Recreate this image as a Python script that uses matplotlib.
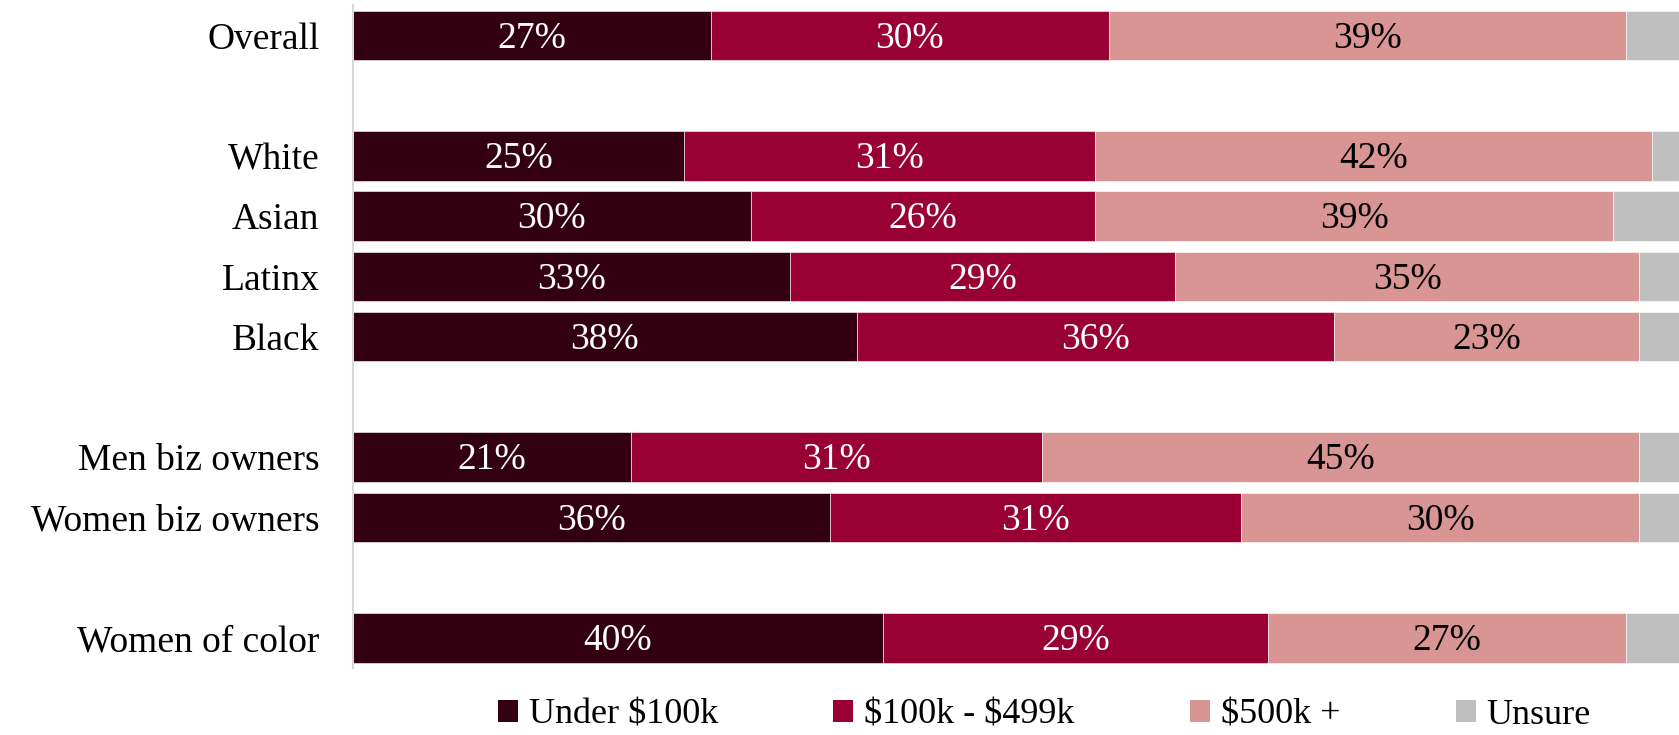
import matplotlib.pyplot as plt
from matplotlib.patches import Patch

# rows from top to bottom; None marks a blank gap row
groups = ["Overall", None, "White", "Asian", "Latinx", "Black", None,
          "Men biz owners", "Women biz owners", None, "Women of color"]

under_100k = [27, None, 25, 30, 33, 38, None, 21, 36, None, 40]
k100_499 = [30, None, 31, 26, 29, 36, None, 31, 31, None, 29]
k500_plus = [39, None, 42, 39, 35, 23, None, 45, 30, None, 27]
unsure = [4, None, 2, 5, 3, 3, None, 3, 3, None, 4]

series_names = ["Under $100k", "$100k - $499k", "$500k +", "Unsure"]
colors = ["#330011", "#990033", "#D99594", "#BFBFBF"]
text_colors = ["white", "white", "black", None]


def main():
    plt.rcParams['font.family'] = ['Liberation Serif', 'DejaVu Serif']
    plt.rcParams['text.parse_math'] = False

    fig = plt.figure(figsize=(16.79, 7.35), dpi=100)
    ax = fig.add_axes([0.210, 0.0912, 0.790, 0.9015])

    rows = [i for i, g in enumerate(groups) if g is not None]
    labels = [groups[i] for i in rows]
    all_series = [under_100k, k100_499, k500_plus, unsure]

    left = [0.0] * len(rows)
    for s, vals in enumerate(all_series):
        widths = [vals[i] for i in rows]
        bars = ax.barh(rows, widths, left=left, height=0.82, color=colors[s],
                       edgecolor='white', linewidth=0.4)
        if text_colors[s] is not None:
            for b, w in zip(bars, widths):
                ax.text(b.get_x() + w / 2, b.get_y() + b.get_height() / 2 + 0.05,
                        f"{w}%", ha='center', va='center', fontsize=27,
                        color=text_colors[s])
        left = [l + w for l, w in zip(left, widths)]

    ax.set_xlim(0, 100)
    ax.set_ylim(len(groups) - 0.5, -0.5)
    ax.set_yticks(rows)
    ax.set_yticklabels(labels, fontsize=27)
    ax.tick_params(axis='y', length=0, pad=24)
    ax.set_xticks([])
    for side in ['top', 'right', 'bottom']:
        ax.spines[side].set_visible(False)
    ax.spines['left'].set_color('#D9D9D9')
    ax.spines['left'].set_linewidth(1.5)

    handles = [Patch(facecolor=c, edgecolor='none') for c in colors]
    fig.legend(handles, series_names, loc='center', bbox_to_anchor=(0.622, 0.027),
               ncol=4, frameon=False, fontsize=26, handlelength=0.55,
               handleheight=0.55, handletextpad=0.3, columnspacing=3.2,
               borderpad=0.1)

    fig.savefig('out.png', dpi=100)


if __name__ == "__main__":
    main()
